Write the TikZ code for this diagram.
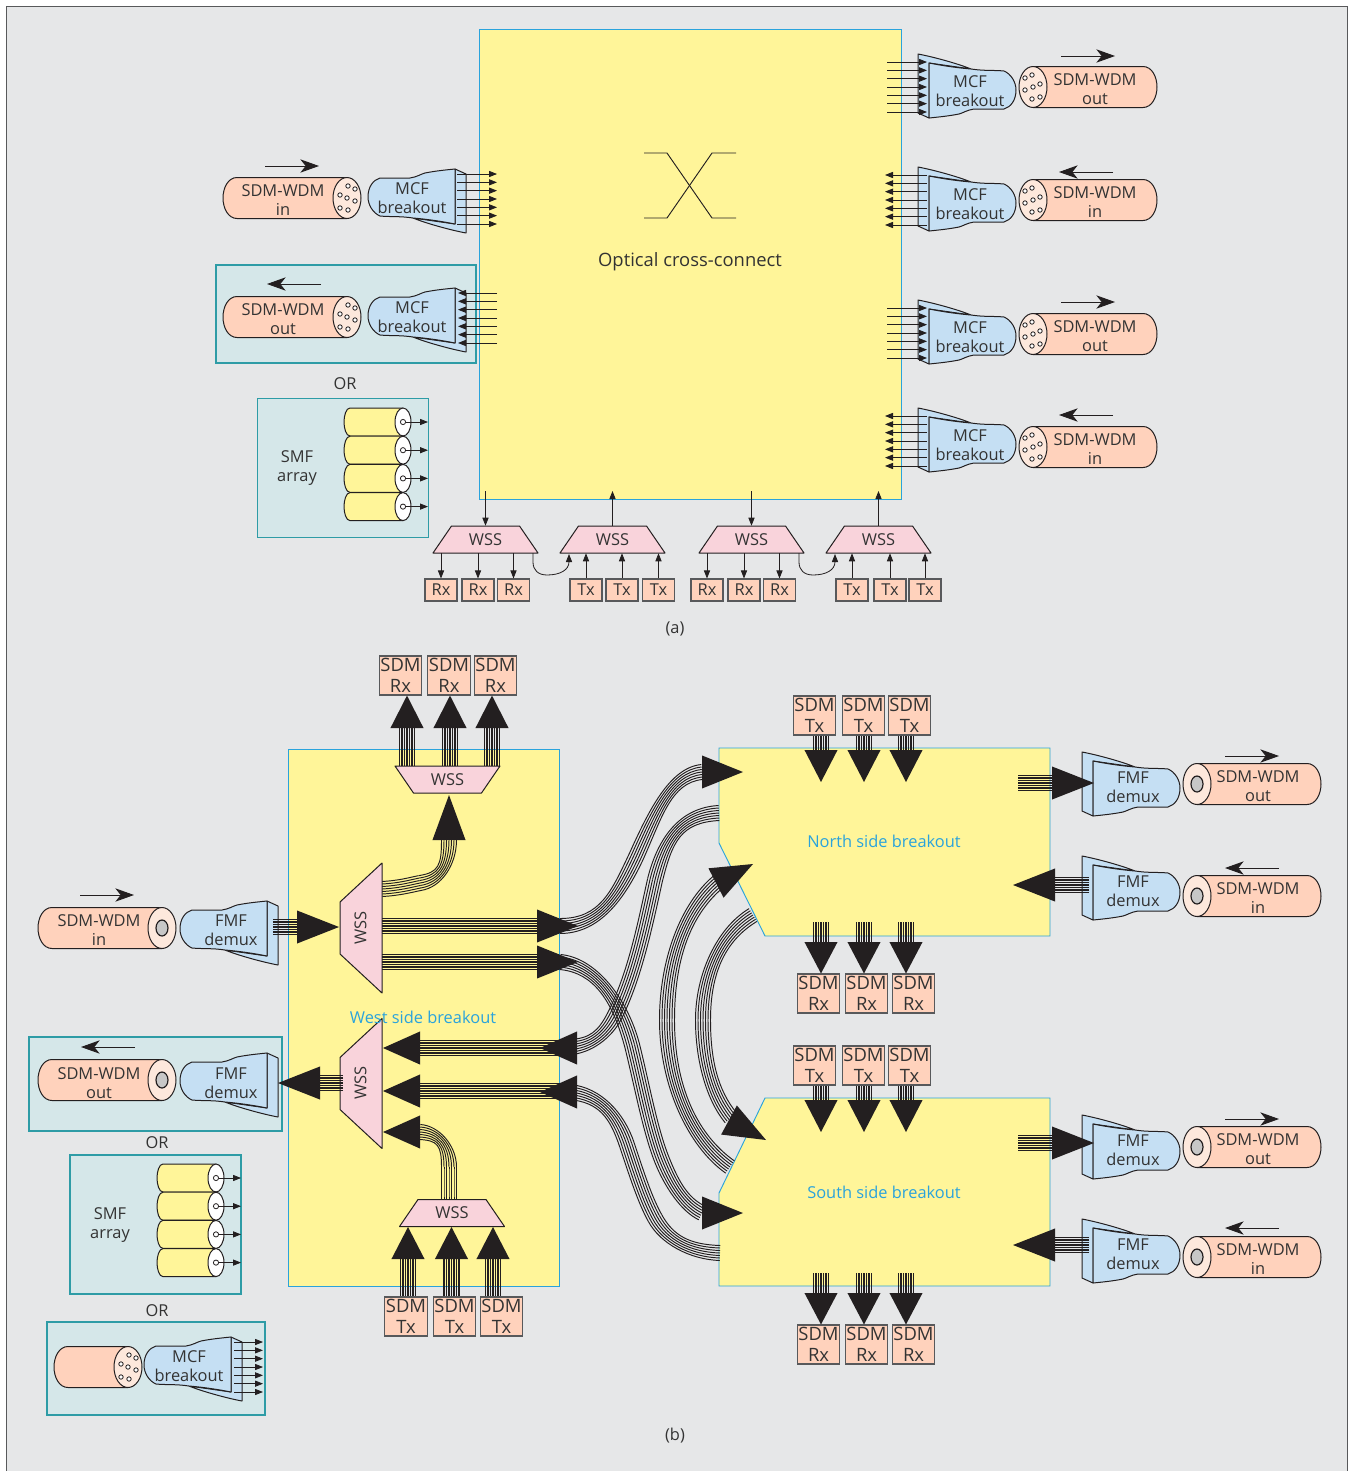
\documentclass[tikz,border=0pt]{standalone}
\usepackage{fontspec}
\setmainfont{Open Sans}
\usetikzlibrary{calc,arrows.meta}
\definecolor{bgc}{HTML}{E6E7E8}
\definecolor{yel}{HTML}{FFF599}
\definecolor{blu}{HTML}{2AA3DC}
\definecolor{tealc}{HTML}{2E9CA6}
\definecolor{tealf}{HTML}{D5E7E9}
\definecolor{sal}{HTML}{FFD2BC}
\definecolor{facec}{HTML}{FDE8DC}
\definecolor{bluef}{HTML}{C5DFF3}
\definecolor{pinkf}{HTML}{F9D3DB}
\definecolor{ink}{HTML}{231F20}
\definecolor{txtc}{HTML}{333333}
\definecolor{gr}{HTML}{58595B}
\newcommand\fs{\fontsize{12.3}{14.25}\selectfont}
\tikzset{
  lbl/.style={font=\fs,text=txtc,align=center,inner sep=0pt},
  tlbl/.style={lbl,yshift=-1pt},
  cyanlbl/.style={font=\fs,text=blu,inner sep=0pt},
  outl/.style={draw=ink,line width=0.75pt,line join=round},
  yelbox/.style={fill=yel,draw=blu,line width=0.7pt},
  tealbox/.style={fill=tealf,draw=tealc,line width=0.9pt},
  smallbox/.style={lbl,draw=gr,line width=0.8pt,fill=sal,minimum width=24pt,minimum height=16.5pt},
  sdmbox/.style={lbl,draw=gr,line width=0.8pt,fill=sal,minimum width=32pt,minimum height=29.25pt,font=\fontsize{13.8}{15.75}\selectfont},
  port/.style={draw=ink,line width=0.6pt,-{Triangle[length=6pt,width=4.6pt]}},
  dirarrow/.style={draw=ink,line width=0.7pt,-{Stealth[length=14pt,width=10pt,inset=4pt]}},
  fibline/.style={draw=ink,line width=0.72pt},
  wssnode/.style={lbl,minimum width=78.75pt,minimum height=20.25pt},
}
% one fibre cable, face at (cx,cy), body going towards dir (+1 right, -1 left)
\newcommand\fiberbody[4][124]{%
  \begin{scope}[shift={(#2,#3)},xscale=#4]
  \path[outl,fill=sal] (0,-20.5) -- ({#1-14},-20.5) .. controls ({#1-5},-20.5) and (#1,-10) .. (#1,0)
     .. controls (#1,10) and ({#1-5},20.5) .. ({#1-14},20.5) -- (0,20.5) -- cycle;
  \path[outl,fill=facec] (0,0) ellipse [x radius=14,y radius=20.5];
  \end{scope}}
\newcommand\holes[3]{%
  \begin{scope}[shift={(#1,#2)},xscale=#3]
  \foreach \hx/\hy in {-1/-12,-8/-9,7/-3,0/0,-8/3,7/10,-1/12}
    \path[draw=ink,line width=0.6pt,fill=white] (\hx,\hy) circle [radius=2.2];
  \end{scope}}
\newcommand\ring[3]{%
  \begin{scope}[shift={(#1,#2)},xscale=#3]
  \path[draw=ink,line width=0.9pt,fill=black!22] (0,0) ellipse [x radius=6,y radius=8];
  \end{scope}}
\newcommand\breakout[3]{%
  \begin{scope}[shift={(#1,#2)},xscale=#3,yscale=#3]
  \path[outl,fill=bluef] (0,-30) -- (11,-25) -- (11,34) .. controls (-5,31) and (-30,24) .. (-42,19) -- (0,25) -- cycle;
  \path[outl,fill=bluef] (0,-30) -- (0,25) .. controls (-15,22) and (-30,20) .. (-42,19)
    .. controls (-55,17) and (-65,18) .. (-75,17) .. controls (-82,14) and (-87,6) .. (-87,-2)
    .. controls (-87,-12) and (-82,-19) .. (-75,-21) -- (-45,-21) .. controls (-38,-22) and (-34,-25) .. (-30,-26)
    .. controls (-20,-28) and (-10,-29) .. (0,-30) -- cycle;
  \end{scope}}
\newcommand\ports[3]{% x from, x to, y centre
  \foreach \pk in {-3,...,3}
    \draw[port] (#1,{#3+\pk*8.33}) -- (#2,{#3+\pk*8.33});}
% SMF array; first face at (fx,fy)
\newcommand\smfarray[2]{%
  \foreach \sk in {0,...,3}{%
    \begin{scope}[shift={(#1,{#2+\sk*28.2})}]
    \path[outl,fill=yel] (0,-14) -- (-53,-14) .. controls (-57,-14) and (-59,-6) .. (-59,0)
       .. controls (-59,6) and (-57,14) .. (-53,14) -- (0,14) -- cycle;
    \path[outl,fill=white] (0,0) ellipse [x radius=8,y radius=14];
    \path[draw=ink,line width=0.6pt,fill=white] (0,0) circle [radius=2.6];
    \draw[port] (2.6,0) -- (25,0);
    \end{scope}}}
\newcommand\wsspoly[3]{% cx, cy, s (1 wide at bottom, -1 wide at top)
  \path[outl,fill=pinkf] ({#1-52.5},{#2+13.5*#3}) -- ({#1+52.5},{#2+13.5*#3})
     -- ({#1+34},{#2-13.5*#3}) -- ({#1-34},{#2-13.5*#3}) -- cycle;}
\newcommand\wssside[1]{% vertical WSS centred at y
  \path[outl,fill=pinkf] (340,{#1-26}) -- (382,{#1-65}) -- (382,{#1+65}) -- (340,{#1+26}) -- cycle;}
% bundle of seven parallel curves
\newcommand\bundseg[4]{%
  \foreach \d in {-5.625,-3.75,-1.875,0,1.875,3.75,5.625}{%
    \draw[fibline] ($(#1)!\d pt!90:(#2)$) .. controls ($(#2)+($(#1)!\d pt!90:(#2)$)-(#1)$)
       and ($(#3)+($(#4)!\d pt!-90:(#3)$)-(#4)$) .. ($(#4)!\d pt!-90:(#3)$);}}
\newcommand\bundline[2]{%
  \foreach \d in {-5.625,-3.75,-1.875,0,1.875,3.75,5.625}{%
    \draw[ink,line width=0.8pt] ($(#1)!\d pt!90:(#2)$) -- ($(#2)!\d pt!-90:(#1)$);}}
\newcommand\bighead[2]{% base, tip
  \fill[ink] (#2) -- ($(#1)!12.4pt!90:(#2)$) -- ($(#1)!12.4pt!-90:(#2)$) -- cycle;}
\newcommand\barrow[3]{\bundline{#1}{#2}\bighead{#2}{#3}}
\begin{document}
\begin{tikzpicture}[x=0.75pt,y=-0.75pt]
\useasboundingbox (0,0) rectangle (1357,1471);
\fill[bgc] (6,6) rectangle (1347,1471);
\draw[gr,line width=0.7pt] (6,1471) -- (6,6) -- (1347,6) -- (1347,1471);

%%%%%%%%%%%%%%%%%%%% part (a)
\node[yelbox,minimum width=316.5pt,minimum height=352.5pt,inner sep=0pt] (oxc) at (690,264) {};
\draw[ink,line width=0.7pt] (644,153) -- (667,153) -- (712,218) -- (736,218);
\draw[ink,line width=0.7pt] (644,218) -- (667,218) -- (712,153) -- (736,153);
\node[tlbl,font=\fontsize{13.8}{15}\selectfont] (oxclabel) at (690,260) {Optical cross-connect};

% left side
\node[tealbox,minimum width=195pt,minimum height=73.5pt,inner sep=0pt] (tealA) at (346,314) {};
\node[tealbox,minimum width=128.25pt,minimum height=104.25pt,inner sep=0pt] (smfA) at (343,468) {};
\fiberbody{347}{198}{-1}\holes{347}{198}{-1}
\node[tlbl] (f1) at (283,198.5) {SDM-WDM\\in};
\fiberbody{347}{317}{-1}\holes{347}{317}{-1}
\node[tlbl] (f2) at (283,317.5) {SDM-WDM\\out};
\breakout{455}{199}{1}
\node[tlbl] (b1) at (412,196.5) {MCF\\breakout};
\breakout{455}{318}{1}
\node[tlbl] (b2) at (412,315.5) {MCF\\breakout};
\ports{457}{497}{199}
\ports{497}{458}{318}
\draw[dirarrow] (265,166) -- (319,166);
\draw[dirarrow] (321,284) -- (267,284);
\node[tlbl] (orA) at (345,382) {OR};
\node[tlbl] (smfAt) at (297,467) {SMF\\array};
\smfarray{403}{422}

% right side
\foreach \nm/\yy/\fy/\txt in {a/88/87/out,b/201/200/in,c/334/334/out,d/442/447/in}{%
  \fiberbody{1033}{\fy}{1}\holes{1033}{\fy}{1}
  \node[tlbl] (fr\nm) at (1095,{\fy+0.5}) {SDM-WDM\\\txt};
  \breakout{929}{\yy}{-1}
  \node[tlbl] (br\nm) at (970,{\yy+1.5}) {MCF\\breakout};
}
\ports{887}{927}{87}
\ports{927}{885}{200}
\ports{887}{927}{333}
\ports{927}{885}{441}
\draw[dirarrow] (1061,56) -- (1115,56);
\draw[dirarrow] (1113,172) -- (1059,172);
\draw[dirarrow] (1061,302) -- (1115,302);
\draw[dirarrow] (1113,415) -- (1059,415);

% WSS row
\foreach \nm/\cx in {wa/485.5,wc/751.5}{%
  \wsspoly{\cx}{539.5}{1}
  \node[wssnode] (\nm) at (\cx,539.5) {WSS};
  \draw[port] (\cx,491) -- (\nm.north);
}
\foreach \nm/\cx in {wb/612.5,wd/878.5}{%
  \wsspoly{\cx}{539.5}{1}
  \node[wssnode] (\nm) at (\cx,539.5) {WSS};
  \draw[port] (\nm.north) -- (\cx,491);
}
\foreach \n/\xx in {1/441,2/478,3/513.5}{%
  \node[smallbox] (rxa\n) at (\xx,590) {Rx};
  \draw[port] (wa.south -| rxa\n) -- (rxa\n.north);}
\foreach \n/\xx in {1/586,2/622,3/658.5}{%
  \node[smallbox] (txa\n) at (\xx,590) {Tx};
  \draw[port] (txa\n.north) -- (wb.south -| txa\n);}
\foreach \n/\xx in {1/707,2/744,3/779.5}{%
  \node[smallbox] (rxc\n) at (\xx,590) {Rx};
  \draw[port] (wc.south -| rxc\n) -- (rxc\n.north);}
\foreach \n/\xx in {1/852,2/890,3/925}{%
  \node[smallbox] (txc\n) at (\xx,590) {Tx};
  \draw[port] (txc\n.north) -- (wd.south -| txc\n);}
\draw[port] (533,553) -- (533,562) .. controls (533,570) and (538,575) .. (547,575)
   .. controls (560,575) and (569,570) .. (569,554);
\draw[port] (799,553) -- (799,562) .. controls (799,570) and (804,575) .. (813,575)
   .. controls (826,575) and (835,570) .. (835,554);
\node[tlbl] (capA) at (675,628) {(a)};

%%%%%%%%%%%%%%%%%%%% part (b)
\node[yelbox,minimum width=203.25pt,minimum height=402.75pt,inner sep=0pt] (west) at (423.5,1018) {};
\path[yelbox] (719,748) -- (1050,748) -- (1050,936) -- (765,936) -- (719,843) -- cycle;
\path[yelbox] (719,1286) -- (1050,1286) -- (1050,1098) -- (765,1098) -- (719,1193) -- cycle;
\node[cyanlbl] (northl) at (884,841) {North side breakout};
\node[cyanlbl] (southl) at (884,1192) {South side breakout};

% left column
\node[tealbox,minimum width=189.75pt,minimum height=70.5pt,inner sep=0pt] (tealB) at (155.5,1084) {};
\node[tealbox,minimum width=128.25pt,minimum height=104.25pt,inner sep=0pt] (smfB) at (155.5,1224.5) {};
\node[tealbox,minimum width=163.5pt,minimum height=69.75pt,inner sep=0pt] (tealC) at (156,1368.5) {};
\fiberbody{162}{928}{-1}\ring{162}{928}{-1}
\node[tlbl] (f3) at (99,928.5) {SDM-WDM\\in};
\fiberbody{162}{1080}{-1}\ring{162}{1080}{-1}
\node[tlbl] (f4) at (99,1081.5) {SDM-WDM\\out};
\breakout{267}{931}{1}
\node[tlbl] (d1) at (231,929) {FMF\\demux};
\breakout{267}{1083}{1}
\node[tlbl] (d2) at (231,1082) {FMF\\demux};
\draw[dirarrow] (80,895) -- (134,895);
\draw[dirarrow] (135,1047) -- (81,1047);
\node[tlbl] (orB) at (157,1141) {OR};
\node[tlbl] (smfBt) at (110,1224) {SMF\\array};
\smfarray{216}{1178}
\node[tlbl] (orC) at (157,1309) {OR};
\fiberbody[74]{128}{1367}{-1}\holes{128}{1367}{-1}
\breakout{231}{1367}{1}
\node[tlbl] (b9) at (189,1364.5) {MCF\\breakout};
\ports{234}{263}{1367}

% right column
\foreach \nm/\yy/\fy/\txt in {a/786/784/out,b/890/896/in,c/1149/1147/out,d/1253/1257/in}{%
  \fiberbody{1197}{\fy}{1}\ring{1197}{\fy}{1}
  \node[tlbl] (fs\nm) at (1258,{\fy+1}) {SDM-WDM\\\txt};
  \breakout{1093}{\yy}{-1}
  \node[tlbl] (ds\nm) at (1133,{\yy}) {FMF\\demux};
}
\draw[dirarrow] (1225,756) -- (1279,756);
\draw[dirarrow] (1279,868) -- (1225,868);
\draw[dirarrow] (1225,1119) -- (1279,1119);
\draw[dirarrow] (1279,1228) -- (1225,1228);

% boxes
\foreach \n/\xx in {1/400.5,2/449,3/495.5}{\node[sdmbox] (srxw\n) at (\xx,675.5) {SDM\\Rx};}
\foreach \n/\xx in {1/406,2/454.5,3/501.5}{\node[sdmbox] (stxw\n) at (\xx,1316.5) {SDM\\Tx};}
\foreach \n/\xx in {1/814.5,2/863.5,3/909.5}{%
  \node[sdmbox] (stxn\n) at (\xx,715.5) {SDM\\Tx};
  \node[sdmbox] (stxs\n) at (\xx,1065.5) {SDM\\Tx};}
\foreach \n/\xx in {1/818.5,2/866.5,3/913.5}{%
  \node[sdmbox] (srxn\n) at (\xx,993.5) {SDM\\Rx};
  \node[sdmbox] (srxs\n) at (\xx,1344.5) {SDM\\Rx};}

% named ends of the long bundles
\coordinate (wn) at (560,926);
\coordinate (wsb) at (560,962);
\coordinate (nin) at (702,772);
\coordinate (nout) at (719,813);
\coordinate (sin) at (702,1213);
\coordinate (sout) at (720,1253);
\coordinate (wi1) at (570,1047);
\coordinate (wi2) at (570,1092);
\coordinate (ndiagin) at (718,882);
\coordinate (ndiagout) at (753,915);
\coordinate (sdiagin) at (731,1118);
\coordinate (sdiagout) at (730,1167);

% long bundles
\bundseg{wn}{600,926}{618,895}{636,857}
\bundseg{636,857}{655,815}{670,775}{nin}
\bundseg{nout}{680,815}{665,840}{655,880}
\bundseg{655,880}{645,925}{635,975}{615,1015}
\bundseg{615,1015}{605,1035}{590,1046}{wi1}
\bundseg{wsb}{595,965}{620,1000}{632,1045}
\bundseg{632,1045}{642,1085}{650,1130}{662,1160}
\bundseg{662,1160}{672,1185}{685,1205}{sin}
\bundseg{wi2}{600,1095}{617,1115}{627,1145}
\bundseg{627,1145}{637,1175}{645,1200}{655,1218}
\bundseg{655,1218}{667,1240}{690,1252}{sout}
\bundseg{sdiagout}{692,1140}{667,1085}{667,1020}
\bundseg{667,1020}{667,960}{685,910}{ndiagin}
\bundseg{ndiagout}{720,935}{703,975}{703,1020}
\bundseg{703,1020}{703,1060}{712,1095}{sdiagin}

% west inner bundles
\bundseg{382,889}{400,888}{410,885}{420,883}
\bundseg{420,883}{440,880}{449,865}{449,840}
\bundseg{420,1132}{438,1133}{449,1145}{449,1167}
\wssside{928}\wssside{1083.5}
\node[lbl,rotate=90] (wss1) at (360.5,928) {WSS};
\node[lbl,rotate=90] (wss2) at (360.5,1083) {WSS};
\barrow{273,927}{297,927}{339,927}
\bighead{702,772}{743,772}
\bighead{702,1213}{743,1213}
\bighead{716,883}{753,864}
\bighead{729,1120}{766,1140}
\barrow{382,926}{537,926}{578,926}
\barrow{382,962}{537,962}{578,962}
\barrow{560,1048}{420,1048}{383,1048}
\barrow{560,1091}{420,1091}{383,1091}
\bighead{577,1048}{540,1048}
\bighead{577,1092}{540,1092}
\bighead{420,1132}{383,1132}
\bighead{449,840}{449,795}
\barrow{343,1083}{320,1083}{278,1083}
\node[cyanlbl] (westl) at (423,1017) {West side breakout};

% horizontal WSS top / bottom of west box
\wsspoly{447.5}{779.5}{-1}
\node[wssnode] (wtop) at (447.5,779.5) {WSS};
\bundseg{449,1199}{449,1190}{449,1177}{449,1167}
\wsspoly{452}{1213}{1}
\node[wssnode] (wbot) at (452,1213) {WSS};

\foreach \n/\xx in {1/407,2/450,3/492}{\barrow{\xx,766}{\xx,728}{\xx,0 |- srxw\n.south}}
\foreach \n/\xx in {1/408,2/451.5,3/493}{\barrow{\xx,0 |- stxw\n.north}{\xx,1259}{\xx,1227}}
\foreach \n/\xx in {1/821,2/864,3/906}{%
  \barrow{\xx,0 |- stxn\n.south}{\xx,750}{\xx,782}
  \barrow{\xx,0 |- stxs\n.south}{\xx,1100}{\xx,1132}
  \barrow{\xx,922}{\xx,942}{\xx,0 |- srxn\n.north}
  \barrow{\xx,1273}{\xx,1293}{\xx,0 |- srxs\n.north}}
\barrow{1018,783}{1052,783}{1094,783}
\barrow{1089,885}{1055,885}{1013,885}
\barrow{1018,1143}{1052,1143}{1094,1143}
\barrow{1089,1245}{1055,1245}{1013,1245}
\node[tlbl] (capB) at (675,1434) {(b)};
\end{tikzpicture}
\end{document}
